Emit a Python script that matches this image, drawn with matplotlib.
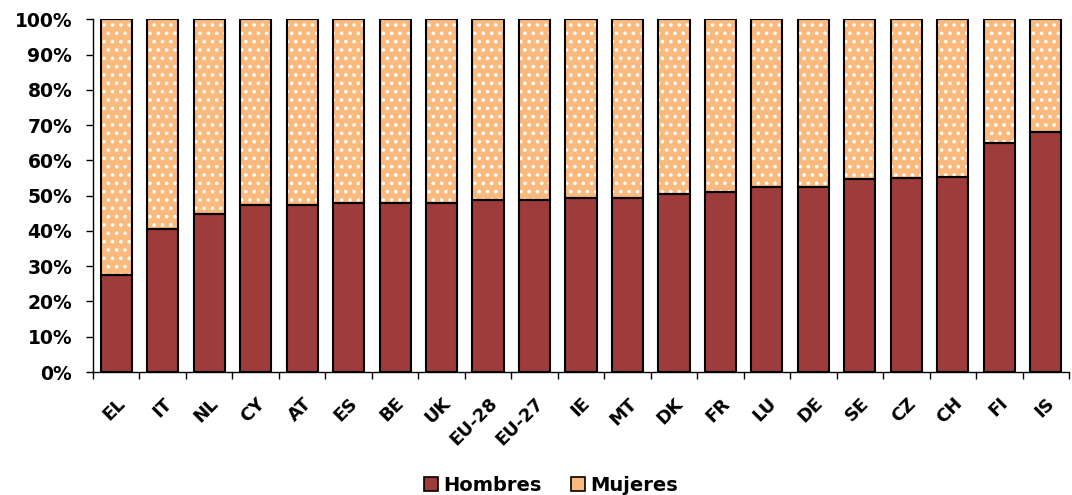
import numpy as np
import matplotlib
matplotlib.use('Agg')
import matplotlib.pyplot as plt
from matplotlib.patches import Patch

# paises y porcentaje de hombres
paises = ['EL', 'IT', 'NL', 'CY', 'AT', 'ES', 'BE', 'UK', 'EU-28', 'EU-27', 'IE',
          'MT', 'DK', 'FR', 'LU', 'DE', 'SE', 'CZ', 'CH', 'FI', 'IS']
hombres = [27.6, 40.6, 44.7, 47.3, 47.3, 47.8, 47.8, 47.8, 48.9, 48.9, 49.3,
           49.3, 50.5, 51.0, 52.5, 52.5, 54.6, 55.1, 55.2, 65.0, 68.1]
mujeres = [100 - h for h in hombres]

col_h = '#9E3B3B'
col_m = '#FAB97D'

plt.rcParams['font.family'] = ['DejaVu Sans']
plt.rcParams['font.weight'] = 'bold'
plt.rcParams['hatch.linewidth'] = 1.4

fig = plt.figure(figsize=(10.72, 4.95), dpi=100)
ax = fig.add_axes([93/1072, 1-372/495, (1069-93)/1072, (372-19.3)/495])

x = np.arange(len(paises))
w = 0.67
ax.bar(x, hombres, w, color=col_h, edgecolor='black', linewidth=1.5, zorder=3)
# relleno punteado (puntos blancos) y luego el borde negro
ax.bar(x, mujeres, w, bottom=hombres, color=col_m, edgecolor='white',
       hatch='..', linewidth=0, zorder=2)
ax.bar(x, mujeres, w, bottom=hombres, fill=False, edgecolor='black',
       linewidth=1.5, zorder=3)

ax.set_xlim(-0.5, len(paises) - 0.5)
ax.set_ylim(0, 100)
ax.set_yticks(np.arange(0, 101, 10))
ax.set_yticklabels(['%d%%' % v for v in range(0, 101, 10)], fontsize=13.5, fontweight='bold')

ax.set_xticks(x)
ax.set_xticklabels(paises, rotation=45, ha='right', va='top', rotation_mode='anchor',
                   fontsize=13, fontweight='bold')
ax.tick_params(axis='x', length=0, pad=16)
ax.set_xticks(np.arange(-0.5, len(paises)), minor=True)
ax.tick_params(axis='x', which='minor', length=5, width=1, color='black')
ax.tick_params(axis='y', length=5, width=1, color='black', pad=10)

for s in ['top', 'right']:
    ax.spines[s].set_visible(False)
for s in ['left', 'bottom']:
    ax.spines[s].set_linewidth(1)
    ax.spines[s].set_color('black')

handles = [Patch(facecolor=col_h, edgecolor='black', linewidth=1.2, label='Hombres'),
           Patch(facecolor=col_m, edgecolor='black', linewidth=1.2, label='Mujeres')]
fig.legend(handles=handles, loc='lower center', bbox_to_anchor=(0.514, -0.035), ncol=2,
           frameon=False, handlelength=0.7, handleheight=0.7, handletextpad=0.3,
           columnspacing=1.5, prop={'size': 14, 'weight': 'bold'})

fig.savefig('out.png', dpi=100)
